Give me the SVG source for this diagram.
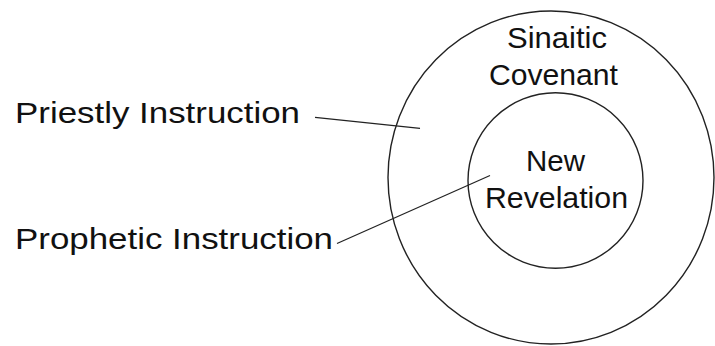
<svg xmlns="http://www.w3.org/2000/svg" width="715" height="346" viewBox="0 0 715 346">
<style>
.ring{fill:none;stroke:#222;stroke-width:1.4}
.lbl{font-family:"Liberation Sans",Arial,sans-serif;font-size:29px;fill:#111}
.conn{stroke:#222;stroke-width:1.3;fill:none}
</style>
<rect width="715" height="346" fill="#fff"/>
<g id="sinaitic-covenant">
<ellipse class="ring" cx="551" cy="177.5" rx="163" ry="166.5"/>
<text class="lbl" x="507" y="48" textLength="100" lengthAdjust="spacingAndGlyphs">Sinaitic</text>
<text class="lbl" x="489" y="85" textLength="129" lengthAdjust="spacingAndGlyphs">Covenant</text>
</g>
<g id="new-revelation">
<ellipse class="ring" cx="555.5" cy="180.5" rx="87.5" ry="87.7"/>
<text class="lbl" x="526" y="171" textLength="59" lengthAdjust="spacingAndGlyphs">New</text>
<text class="lbl" x="485" y="208" textLength="143" lengthAdjust="spacingAndGlyphs">Revelation</text>
</g>
<g id="priestly-instruction">
<text class="lbl" x="15" y="122.5" textLength="285" lengthAdjust="spacingAndGlyphs">Priestly Instruction</text>
</g>
<g id="prophetic-instruction">
<text class="lbl" x="15" y="249" textLength="318" lengthAdjust="spacingAndGlyphs">Prophetic Instruction</text>
</g>
<g id="connectors">
<line class="conn" x1="315" y1="117.3" x2="420" y2="128.3"/>
<line class="conn" x1="337" y1="243.5" x2="490" y2="175.5"/>
</g>
</svg>
